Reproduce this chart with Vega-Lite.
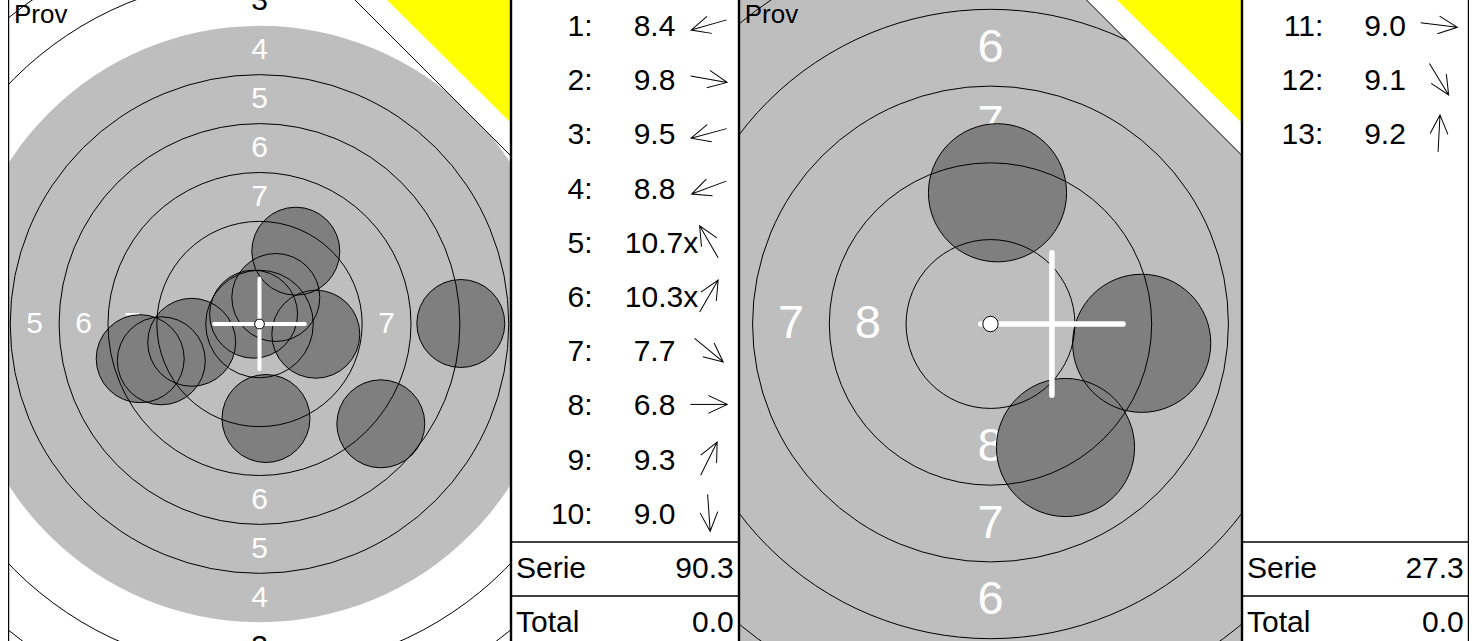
{
"$schema":"https://vega.github.io/schema/vega-lite/v6.json",
"background":"white",
"padding":{"left":8,"right":8,"top":0,"bottom":0},
"autosize":{"type":"pad"},
"spacing":0,
"bounds":"flush",
"resolve":{"scale":{"x":"independent","y":"independent","size":"independent","angle":"independent","color":"independent"}},
"config":{"view":{"stroke":null},"text":{"font":"Liberation Sans"}},
"datasets":{
"rings":[{"ring":1,"r":22.75},{"ring":2,"r":20.25},{"ring":3,"r":17.75},{"ring":4,"r":15.25},{"ring":5,"r":12.75},{"ring":6,"r":10.25},{"ring":7,"r":7.75},{"ring":8,"r":5.25},{"ring":9,"r":2.75},{"ring":10,"r":0.25}],
"labels":[
{"t":1,"z":3,"x":0,"y":16.5},{"t":1,"z":4,"x":0,"y":14},{"t":1,"z":5,"x":0,"y":11.5},{"t":1,"z":6,"x":0,"y":9},{"t":1,"z":7,"x":0,"y":6.5},
{"t":1,"z":7,"x":0,"y":-6.5},{"t":1,"z":6,"x":0,"y":-9},{"t":1,"z":5,"x":0,"y":-11.5},{"t":1,"z":4,"x":0,"y":-14},{"t":1,"z":3,"x":0,"y":-16.5},
{"t":1,"z":5,"x":-11.5,"y":0},{"t":1,"z":6,"x":-9,"y":0},{"t":1,"z":7,"x":-6.5,"y":0},{"t":1,"z":7,"x":6.5,"y":0},{"t":1,"z":6,"x":9,"y":0},{"t":1,"z":5,"x":11.5,"y":0},
{"t":2,"z":6,"x":0,"y":9},{"t":2,"z":7,"x":0,"y":6.5},{"t":2,"z":8,"x":0,"y":4},{"t":2,"z":8,"x":0,"y":-4},{"t":2,"z":7,"x":0,"y":-6.5},{"t":2,"z":6,"x":0,"y":-9},
{"t":2,"z":7,"x":-6.5,"y":0},{"t":2,"z":8,"x":-4,"y":0},{"t":2,"z":8,"x":4,"y":0},{"t":2,"z":7,"x":6.5,"y":0}
],
"shots":[
{"t":1,"n":1,"row":1,"lab":"1:","pts":8.4,"score":"8.4","x":-6.102,"y":-1.775,"dir":164},
{"t":1,"n":2,"row":2,"lab":"2:","pts":9.8,"score":"9.8","x":2.88,"y":-0.522,"dir":10},
{"t":1,"n":3,"row":3,"lab":"3:","pts":9.5,"score":"9.5","x":-3.468,"y":-0.936,"dir":165},
{"t":1,"n":4,"row":4,"lab":"4:","pts":8.8,"score":"8.8","x":-5.023,"y":-1.882,"dir":159.5},
{"t":1,"n":5,"row":5,"lab":"5:","pts":10.7,"score":"10.7x","x":-0.302,"y":0.501,"dir":240},
{"t":1,"n":6,"row":6,"lab":"6:","pts":10.3,"score":"10.3x","x":0.834,"y":1.356,"dir":300},
{"t":1,"n":7,"row":7,"lab":"7:","pts":7.7,"score":"7.7","x":6.205,"y":-5.105,"dir":39.4},
{"t":1,"n":8,"row":8,"lab":"8:","pts":6.8,"score":"6.8","x":10.297,"y":0.026,"dir":0},
{"t":1,"n":9,"row":9,"lab":"9:","pts":9.3,"score":"9.3","x":1.857,"y":3.724,"dir":296.5},
{"t":1,"n":10,"row":10,"lab":"10:","pts":9.0,"score":"9.0","x":0.332,"y":-4.834,"dir":86},
{"t":2,"n":11,"row":1,"lab":"11:","pts":9.0,"score":"9.0","x":4.925,"y":-0.629,"dir":7.3},
{"t":2,"n":12,"row":2,"lab":"12:","pts":9.1,"score":"9.1","x":2.443,"y":-4.023,"dir":58.7},
{"t":2,"n":13,"row":3,"lab":"13:","pts":9.2,"score":"9.2","x":0.228,"y":4.274,"dir":273}
],
"summary":[
{"t":1,"row":11,"name":"Serie","val":"90.3"},{"t":1,"row":12,"name":"Total","val":"0.0"},
{"t":2,"row":11,"name":"Serie","val":"27.3"},{"t":2,"row":12,"name":"Total","val":"0.0"}
],
"cross":[
{"t":1,"x1":-2.32,"x2":2.32,"y1":0,"y2":0},{"t":1,"x1":0,"x2":0,"y1":-2.32,"y2":2.32},
{"t":2,"x1":-0.32,"x2":4.32,"y1":0,"y2":0},{"t":2,"x1":2.0,"x2":2.0,"y1":-2.32,"y2":2.32}
],
"corner":[
{"t":1,"k":"white","x":4.458,"y":17,"y2":17},{"t":1,"k":"white","x":13.2,"y":8.258,"y2":17},
{"t":1,"k":"yellow","x":6.092,"y":17,"y2":17},{"t":1,"k":"yellow","x":13.2,"y":9.948,"y2":17},
{"t":2,"k":"white","x":2.68,"y":11,"y2":11},{"t":2,"k":"white","x":8.5,"y":5.18,"y2":11},
{"t":2,"k":"yellow","x":3.668,"y":11,"y2":11},{"t":2,"k":"yellow","x":8.5,"y":6.244,"y2":11}
],
"prov":[{"t":1,"s":"Prov","x":-12.558,"y":15.412},{"t":2,"s":"Prov","x":-8.007,"y":9.814}]
},
"hconcat":[
{
"width":503,"height":641,
"layer":[
{"data":{"name":"rings"},"transform":[{"filter":"datum.ring == 4"}],
 "mark":{"type":"point","shape":"circle","filled":true,"color":"#bebebe","strokeWidth":0,"opacity":1,"clip":true},
 "encoding":{"x":{"datum":0,"type":"quantitative","scale":{"domain":[-12.864,12.864],"nice":false,"zero":false},"axis":null},
 "y":{"datum":0,"type":"quantitative","scale":{"domain":[-16.215,16.573],"nice":false,"zero":false},"axis":null},
 "size":{"field":"r","type":"quantitative","scale":{"type":"pow","exponent":2,"domain":[0,25],"range":[0,955506]},"legend":null}}},
{"data":{"name":"labels"},"transform":[{"filter":"datum.t == 1"}],
 "mark":{"type":"text","font":"Liberation Sans","fontSize":30,"align":"center","baseline":"middle","clip":true},
 "encoding":{"x":{"field":"x","type":"quantitative","scale":{"domain":[-12.864,12.864],"nice":false,"zero":false},"axis":null},
 "y":{"field":"y","type":"quantitative","scale":{"domain":[-16.215,16.573],"nice":false,"zero":false},"axis":null},
 "text":{"field":"z","type":"nominal"},
 "color":{"condition":{"test":"datum.z <= 3","value":"black"},"value":"white"}}},
{"data":{"name":"shots"},"transform":[{"filter":"datum.t == 1"}],
 "mark":{"type":"point","shape":"circle","filled":true,"color":"#7f7f7f","strokeWidth":0,"opacity":1,"clip":true},
 "encoding":{"x":{"field":"x","type":"quantitative","scale":{"domain":[-12.864,12.864],"nice":false,"zero":false},"axis":null},
 "y":{"field":"y","type":"quantitative","scale":{"domain":[-16.215,16.573],"nice":false,"zero":false},"axis":null},
 "size":{"datum":2.25,"type":"quantitative","scale":{"type":"pow","exponent":2,"domain":[0,25],"range":[0,955506]},"legend":null}}},
{"data":{"name":"rings"},"transform":[{"filter":"datum.ring != 4 && datum.ring != 10"}],
 "mark":{"type":"point","shape":"circle","filled":false,"color":"black","strokeWidth":1,"opacity":1,"clip":true},
 "encoding":{"x":{"datum":0,"type":"quantitative","scale":{"domain":[-12.864,12.864],"nice":false,"zero":false},"axis":null},
 "y":{"datum":0,"type":"quantitative","scale":{"domain":[-16.215,16.573],"nice":false,"zero":false},"axis":null},
 "size":{"field":"r","type":"quantitative","scale":{"type":"pow","exponent":2,"domain":[0,25],"range":[0,955506]},"legend":null}}},
{"data":{"name":"shots"},"transform":[{"filter":"datum.t == 1"}],
 "mark":{"type":"point","shape":"circle","filled":false,"color":"black","strokeWidth":1,"opacity":1,"clip":true},
 "encoding":{"x":{"field":"x","type":"quantitative","scale":{"domain":[-12.864,12.864],"nice":false,"zero":false},"axis":null},
 "y":{"field":"y","type":"quantitative","scale":{"domain":[-16.215,16.573],"nice":false,"zero":false},"axis":null},
 "size":{"datum":2.25,"type":"quantitative","scale":{"type":"pow","exponent":2,"domain":[0,25],"range":[0,955506]},"legend":null}}},
{"data":{"name":"cross"},"transform":[{"filter":"datum.t == 1"}],
 "mark":{"type":"rule","color":"white","strokeWidth":4,"strokeCap":"round","clip":true},
 "encoding":{"x":{"field":"x1","type":"quantitative","scale":{"domain":[-12.864,12.864],"nice":false,"zero":false},"axis":null},"x2":{"field":"x2"},
 "y":{"field":"y1","type":"quantitative","scale":{"domain":[-16.215,16.573],"nice":false,"zero":false},"axis":null},"y2":{"field":"y2"}}},
{"data":{"name":"rings"},"transform":[{"filter":"datum.ring == 10"}],
 "mark":{"type":"point","shape":"circle","filled":true,"color":"white","stroke":"black","strokeWidth":1,"opacity":1,"clip":true},
 "encoding":{"x":{"datum":0,"type":"quantitative","scale":{"domain":[-12.864,12.864],"nice":false,"zero":false},"axis":null},
 "y":{"datum":0,"type":"quantitative","scale":{"domain":[-16.215,16.573],"nice":false,"zero":false},"axis":null},
 "size":{"field":"r","type":"quantitative","scale":{"type":"pow","exponent":2,"domain":[0,25],"range":[0,955506]},"legend":null}}},
{"data":{"name":"corner"},"transform":[{"filter":"datum.t == 1 && datum.k == 'white'"}],
 "mark":{"type":"area","color":"white","opacity":1,"clip":true},
 "encoding":{"x":{"field":"x","type":"quantitative","scale":{"domain":[-12.864,12.864],"nice":false,"zero":false},"axis":null},
 "y":{"field":"y","type":"quantitative","scale":{"domain":[-16.215,16.573],"nice":false,"zero":false},"axis":null},"y2":{"field":"y2"}}},
{"data":{"name":"corner"},"transform":[{"filter":"datum.t == 1 && datum.k == 'yellow'"}],
 "mark":{"type":"area","color":"#ffff00","opacity":1,"clip":true},
 "encoding":{"x":{"field":"x","type":"quantitative","scale":{"domain":[-12.864,12.864],"nice":false,"zero":false},"axis":null},
 "y":{"field":"y","type":"quantitative","scale":{"domain":[-16.215,16.573],"nice":false,"zero":false},"axis":null},"y2":{"field":"y2"}}},
{"data":{"name":"corner"},"transform":[{"filter":"datum.t == 1 && datum.k == 'white'"}],
 "mark":{"type":"line","color":"black","strokeWidth":1,"clip":true},
 "encoding":{"x":{"field":"x","type":"quantitative","scale":{"domain":[-12.864,12.864],"nice":false,"zero":false},"axis":null},
 "y":{"field":"y","type":"quantitative","scale":{"domain":[-16.215,16.573],"nice":false,"zero":false},"axis":null}}},
{"data":{"name":"prov"},"transform":[{"filter":"datum.t == 1"}],
 "mark":{"type":"text","font":"Liberation Sans","fontSize":26,"align":"left","baseline":"alphabetic","color":"black","clip":true},
 "encoding":{"x":{"field":"x","type":"quantitative","scale":{"domain":[-12.864,12.864],"nice":false,"zero":false},"axis":null},
 "y":{"field":"y","type":"quantitative","scale":{"domain":[-16.215,16.573],"nice":false,"zero":false},"axis":null},
 "text":{"field":"s","type":"nominal"}}},
{"data":{"values":[{}]},
 "mark":{"type":"rule","color":"black","strokeWidth":2.4,"clip":true},
 "encoding":{"x":{"datum":-12.864,"type":"quantitative","scale":{"domain":[-12.864,12.864],"nice":false,"zero":false},"axis":null}}},
{"data":{"values":[{}]},
 "mark":{"type":"rule","color":"black","strokeWidth":2.4,"clip":true},
 "encoding":{"x":{"datum":12.864,"type":"quantitative","scale":{"domain":[-12.864,12.864],"nice":false,"zero":false},"axis":null}}}
]
},
{
"width":228,"height":641,
"layer":[
{"data":{"name":"shots"},"transform":[{"filter":"datum.t == 1"}],
 "mark":{"type":"text","font":"Liberation Sans","fontSize":30,"align":"right","baseline":"middle","color":"black"},
 "encoding":{"x":{"datum":35.8,"type":"quantitative","scale":{"domain":[0,100],"nice":false,"zero":false},"axis":null},
 "y":{"field":"row","type":"quantitative","scale":{"domain":[0.502,12.328],"reverse":true,"nice":false,"zero":false},"axis":null},
 "text":{"field":"lab","type":"nominal"}}},
{"data":{"name":"shots"},"transform":[{"filter":"datum.t == 1 && datum.pts < 10"}],
 "mark":{"type":"text","font":"Liberation Sans","fontSize":30,"align":"left","baseline":"middle","color":"black"},
 "encoding":{"x":{"datum":53.8,"type":"quantitative","scale":{"domain":[0,100],"nice":false,"zero":false},"axis":null},
 "y":{"field":"row","type":"quantitative","scale":{"domain":[0.502,12.328],"reverse":true,"nice":false,"zero":false},"axis":null},
 "text":{"field":"score","type":"nominal"}}},
{"data":{"name":"shots"},"transform":[{"filter":"datum.t == 1 && datum.pts >= 10"}],
 "mark":{"type":"text","font":"Liberation Sans","fontSize":30,"align":"left","baseline":"middle","color":"black"},
 "encoding":{"x":{"datum":49.9,"type":"quantitative","scale":{"domain":[0,100],"nice":false,"zero":false},"axis":null},
 "y":{"field":"row","type":"quantitative","scale":{"domain":[0.502,12.328],"reverse":true,"nice":false,"zero":false},"axis":null},
 "text":{"field":"score","type":"nominal"}}},
{"data":{"name":"shots"},"transform":[{"filter":"datum.t == 1"}],
 "mark":{"type":"point","shape":"M-1,0L1,0M-0.03,-0.48L1,0L-0.03,0.48","filled":false,"color":"black","strokeWidth":1,"opacity":1,"size":1369,"yOffset":-2},
 "encoding":{"x":{"datum":86.8,"type":"quantitative","scale":{"domain":[0,100],"nice":false,"zero":false},"axis":null},
 "y":{"field":"row","type":"quantitative","scale":{"domain":[0.502,12.328],"reverse":true,"nice":false,"zero":false},"axis":null},
 "angle":{"field":"dir","type":"quantitative","scale":{"domain":[0,360],"range":[0,360]},"legend":null}}},
{"data":{"name":"summary"},"transform":[{"filter":"datum.t == 1"}],
 "mark":{"type":"text","font":"Liberation Sans","fontSize":30,"align":"left","baseline":"middle","color":"black"},
 "encoding":{"x":{"datum":2.2,"type":"quantitative","scale":{"domain":[0,100],"nice":false,"zero":false},"axis":null},
 "y":{"field":"row","type":"quantitative","scale":{"domain":[0.502,12.328],"reverse":true,"nice":false,"zero":false},"axis":null},
 "text":{"field":"name","type":"nominal"}}},
{"data":{"name":"summary"},"transform":[{"filter":"datum.t == 1"}],
 "mark":{"type":"text","font":"Liberation Sans","fontSize":30,"align":"right","baseline":"middle","color":"black"},
 "encoding":{"x":{"datum":97.7,"type":"quantitative","scale":{"domain":[0,100],"nice":false,"zero":false},"axis":null},
 "y":{"field":"row","type":"quantitative","scale":{"domain":[0.502,12.328],"reverse":true,"nice":false,"zero":false},"axis":null},
 "text":{"field":"val","type":"nominal"}}},
{"data":{"values":[{}]},
 "mark":{"type":"rule","color":"black","strokeWidth":1.5},
 "encoding":{"y":{"datum":10.5,"type":"quantitative","scale":{"domain":[0.502,12.328],"reverse":true,"nice":false,"zero":false},"axis":null}}},
{"data":{"values":[{}]},
 "mark":{"type":"rule","color":"black","strokeWidth":1.5},
 "encoding":{"y":{"datum":11.5,"type":"quantitative","scale":{"domain":[0.502,12.328],"reverse":true,"nice":false,"zero":false},"axis":null}}},
{"data":{"values":[{}]},
 "mark":{"type":"rule","color":"black","strokeWidth":2.4,"clip":true},
 "encoding":{"x":{"datum":0,"type":"quantitative","scale":{"domain":[0,100],"nice":false,"zero":false},"axis":null}}},
{"data":{"values":[{}]},
 "mark":{"type":"rule","color":"black","strokeWidth":2.4,"clip":true},
 "encoding":{"x":{"datum":100,"type":"quantitative","scale":{"domain":[0,100],"nice":false,"zero":false},"axis":null}}}
]
},
{
"width":503,"height":641,
"layer":[
{"data":{"name":"rings"},"transform":[{"filter":"datum.ring == 4"}],
 "mark":{"type":"point","shape":"circle","filled":true,"color":"#bebebe","strokeWidth":0,"opacity":1,"clip":true},
 "encoding":{"x":{"datum":0,"type":"quantitative","scale":{"domain":[-8.192,8.192],"nice":false,"zero":false},"axis":null},
 "y":{"datum":0,"type":"quantitative","scale":{"domain":[-10.326,10.554],"nice":false,"zero":false},"axis":null},
 "size":{"field":"r","type":"quantitative","scale":{"type":"pow","exponent":2,"domain":[0,25],"range":[0,2356225]},"legend":null}}},
{"data":{"name":"labels"},"transform":[{"filter":"datum.t == 2"}],
 "mark":{"type":"text","font":"Liberation Sans","fontSize":47,"align":"center","baseline":"middle","clip":true},
 "encoding":{"x":{"field":"x","type":"quantitative","scale":{"domain":[-8.192,8.192],"nice":false,"zero":false},"axis":null},
 "y":{"field":"y","type":"quantitative","scale":{"domain":[-10.326,10.554],"nice":false,"zero":false},"axis":null},
 "text":{"field":"z","type":"nominal"},
 "color":{"condition":{"test":"datum.z <= 3","value":"black"},"value":"white"}}},
{"data":{"name":"shots"},"transform":[{"filter":"datum.t == 2"}],
 "mark":{"type":"point","shape":"circle","filled":true,"color":"#7f7f7f","strokeWidth":0,"opacity":1,"clip":true},
 "encoding":{"x":{"field":"x","type":"quantitative","scale":{"domain":[-8.192,8.192],"nice":false,"zero":false},"axis":null},
 "y":{"field":"y","type":"quantitative","scale":{"domain":[-10.326,10.554],"nice":false,"zero":false},"axis":null},
 "size":{"datum":2.25,"type":"quantitative","scale":{"type":"pow","exponent":2,"domain":[0,25],"range":[0,2356225]},"legend":null}}},
{"data":{"name":"rings"},"transform":[{"filter":"datum.ring != 4 && datum.ring != 10"}],
 "mark":{"type":"point","shape":"circle","filled":false,"color":"black","strokeWidth":1,"opacity":1,"clip":true},
 "encoding":{"x":{"datum":0,"type":"quantitative","scale":{"domain":[-8.192,8.192],"nice":false,"zero":false},"axis":null},
 "y":{"datum":0,"type":"quantitative","scale":{"domain":[-10.326,10.554],"nice":false,"zero":false},"axis":null},
 "size":{"field":"r","type":"quantitative","scale":{"type":"pow","exponent":2,"domain":[0,25],"range":[0,2356225]},"legend":null}}},
{"data":{"name":"shots"},"transform":[{"filter":"datum.t == 2"}],
 "mark":{"type":"point","shape":"circle","filled":false,"color":"black","strokeWidth":1,"opacity":1,"clip":true},
 "encoding":{"x":{"field":"x","type":"quantitative","scale":{"domain":[-8.192,8.192],"nice":false,"zero":false},"axis":null},
 "y":{"field":"y","type":"quantitative","scale":{"domain":[-10.326,10.554],"nice":false,"zero":false},"axis":null},
 "size":{"datum":2.25,"type":"quantitative","scale":{"type":"pow","exponent":2,"domain":[0,25],"range":[0,2356225]},"legend":null}}},
{"data":{"name":"cross"},"transform":[{"filter":"datum.t == 2"}],
 "mark":{"type":"rule","color":"white","strokeWidth":5.5,"strokeCap":"round","clip":true},
 "encoding":{"x":{"field":"x1","type":"quantitative","scale":{"domain":[-8.192,8.192],"nice":false,"zero":false},"axis":null},"x2":{"field":"x2"},
 "y":{"field":"y1","type":"quantitative","scale":{"domain":[-10.326,10.554],"nice":false,"zero":false},"axis":null},"y2":{"field":"y2"}}},
{"data":{"name":"rings"},"transform":[{"filter":"datum.ring == 10"}],
 "mark":{"type":"point","shape":"circle","filled":true,"color":"white","stroke":"black","strokeWidth":1,"opacity":1,"clip":true},
 "encoding":{"x":{"datum":0,"type":"quantitative","scale":{"domain":[-8.192,8.192],"nice":false,"zero":false},"axis":null},
 "y":{"datum":0,"type":"quantitative","scale":{"domain":[-10.326,10.554],"nice":false,"zero":false},"axis":null},
 "size":{"field":"r","type":"quantitative","scale":{"type":"pow","exponent":2,"domain":[0,25],"range":[0,2356225]},"legend":null}}},
{"data":{"name":"corner"},"transform":[{"filter":"datum.t == 2 && datum.k == 'white'"}],
 "mark":{"type":"area","color":"white","opacity":1,"clip":true},
 "encoding":{"x":{"field":"x","type":"quantitative","scale":{"domain":[-8.192,8.192],"nice":false,"zero":false},"axis":null},
 "y":{"field":"y","type":"quantitative","scale":{"domain":[-10.326,10.554],"nice":false,"zero":false},"axis":null},"y2":{"field":"y2"}}},
{"data":{"name":"corner"},"transform":[{"filter":"datum.t == 2 && datum.k == 'yellow'"}],
 "mark":{"type":"area","color":"#ffff00","opacity":1,"clip":true},
 "encoding":{"x":{"field":"x","type":"quantitative","scale":{"domain":[-8.192,8.192],"nice":false,"zero":false},"axis":null},
 "y":{"field":"y","type":"quantitative","scale":{"domain":[-10.326,10.554],"nice":false,"zero":false},"axis":null},"y2":{"field":"y2"}}},
{"data":{"name":"corner"},"transform":[{"filter":"datum.t == 2 && datum.k == 'white'"}],
 "mark":{"type":"line","color":"black","strokeWidth":1,"clip":true},
 "encoding":{"x":{"field":"x","type":"quantitative","scale":{"domain":[-8.192,8.192],"nice":false,"zero":false},"axis":null},
 "y":{"field":"y","type":"quantitative","scale":{"domain":[-10.326,10.554],"nice":false,"zero":false},"axis":null}}},
{"data":{"name":"prov"},"transform":[{"filter":"datum.t == 2"}],
 "mark":{"type":"text","font":"Liberation Sans","fontSize":26,"align":"left","baseline":"alphabetic","color":"black","clip":true},
 "encoding":{"x":{"field":"x","type":"quantitative","scale":{"domain":[-8.192,8.192],"nice":false,"zero":false},"axis":null},
 "y":{"field":"y","type":"quantitative","scale":{"domain":[-10.326,10.554],"nice":false,"zero":false},"axis":null},
 "text":{"field":"s","type":"nominal"}}},
{"data":{"values":[{}]},
 "mark":{"type":"rule","color":"black","strokeWidth":2.4,"clip":true},
 "encoding":{"x":{"datum":-8.192,"type":"quantitative","scale":{"domain":[-8.192,8.192],"nice":false,"zero":false},"axis":null}}},
{"data":{"values":[{}]},
 "mark":{"type":"rule","color":"black","strokeWidth":2.4,"clip":true},
 "encoding":{"x":{"datum":8.192,"type":"quantitative","scale":{"domain":[-8.192,8.192],"nice":false,"zero":false},"axis":null}}}
]
},
{
"width":227,"height":641,
"layer":[
{"data":{"name":"shots"},"transform":[{"filter":"datum.t == 2"}],
 "mark":{"type":"text","font":"Liberation Sans","fontSize":30,"align":"right","baseline":"middle","color":"black"},
 "encoding":{"x":{"datum":35.8,"type":"quantitative","scale":{"domain":[0,100],"nice":false,"zero":false},"axis":null},
 "y":{"field":"row","type":"quantitative","scale":{"domain":[0.502,12.328],"reverse":true,"nice":false,"zero":false},"axis":null},
 "text":{"field":"lab","type":"nominal"}}},
{"data":{"name":"shots"},"transform":[{"filter":"datum.t == 2 && datum.pts < 10"}],
 "mark":{"type":"text","font":"Liberation Sans","fontSize":30,"align":"left","baseline":"middle","color":"black"},
 "encoding":{"x":{"datum":53.8,"type":"quantitative","scale":{"domain":[0,100],"nice":false,"zero":false},"axis":null},
 "y":{"field":"row","type":"quantitative","scale":{"domain":[0.502,12.328],"reverse":true,"nice":false,"zero":false},"axis":null},
 "text":{"field":"score","type":"nominal"}}},
{"data":{"name":"shots"},"transform":[{"filter":"datum.t == 2 && datum.pts >= 10"}],
 "mark":{"type":"text","font":"Liberation Sans","fontSize":30,"align":"left","baseline":"middle","color":"black"},
 "encoding":{"x":{"datum":49.9,"type":"quantitative","scale":{"domain":[0,100],"nice":false,"zero":false},"axis":null},
 "y":{"field":"row","type":"quantitative","scale":{"domain":[0.502,12.328],"reverse":true,"nice":false,"zero":false},"axis":null},
 "text":{"field":"score","type":"nominal"}}},
{"data":{"name":"shots"},"transform":[{"filter":"datum.t == 2"}],
 "mark":{"type":"point","shape":"M-1,0L1,0M-0.03,-0.48L1,0L-0.03,0.48","filled":false,"color":"black","strokeWidth":1,"opacity":1,"size":1369,"yOffset":-2},
 "encoding":{"x":{"datum":86.8,"type":"quantitative","scale":{"domain":[0,100],"nice":false,"zero":false},"axis":null},
 "y":{"field":"row","type":"quantitative","scale":{"domain":[0.502,12.328],"reverse":true,"nice":false,"zero":false},"axis":null},
 "angle":{"field":"dir","type":"quantitative","scale":{"domain":[0,360],"range":[0,360]},"legend":null}}},
{"data":{"name":"summary"},"transform":[{"filter":"datum.t == 2"}],
 "mark":{"type":"text","font":"Liberation Sans","fontSize":30,"align":"left","baseline":"middle","color":"black"},
 "encoding":{"x":{"datum":2.2,"type":"quantitative","scale":{"domain":[0,100],"nice":false,"zero":false},"axis":null},
 "y":{"field":"row","type":"quantitative","scale":{"domain":[0.502,12.328],"reverse":true,"nice":false,"zero":false},"axis":null},
 "text":{"field":"name","type":"nominal"}}},
{"data":{"name":"summary"},"transform":[{"filter":"datum.t == 2"}],
 "mark":{"type":"text","font":"Liberation Sans","fontSize":30,"align":"right","baseline":"middle","color":"black"},
 "encoding":{"x":{"datum":97.7,"type":"quantitative","scale":{"domain":[0,100],"nice":false,"zero":false},"axis":null},
 "y":{"field":"row","type":"quantitative","scale":{"domain":[0.502,12.328],"reverse":true,"nice":false,"zero":false},"axis":null},
 "text":{"field":"val","type":"nominal"}}},
{"data":{"values":[{}]},
 "mark":{"type":"rule","color":"black","strokeWidth":1.5},
 "encoding":{"y":{"datum":10.5,"type":"quantitative","scale":{"domain":[0.502,12.328],"reverse":true,"nice":false,"zero":false},"axis":null}}},
{"data":{"values":[{}]},
 "mark":{"type":"rule","color":"black","strokeWidth":1.5},
 "encoding":{"y":{"datum":11.5,"type":"quantitative","scale":{"domain":[0.502,12.328],"reverse":true,"nice":false,"zero":false},"axis":null}}},
{"data":{"values":[{}]},
 "mark":{"type":"rule","color":"black","strokeWidth":2.4,"clip":true},
 "encoding":{"x":{"datum":0,"type":"quantitative","scale":{"domain":[0,100],"nice":false,"zero":false},"axis":null}}},
{"data":{"values":[{}]},
 "mark":{"type":"rule","color":"black","strokeWidth":2.4,"clip":true},
 "encoding":{"x":{"datum":100,"type":"quantitative","scale":{"domain":[0,100],"nice":false,"zero":false},"axis":null}}}
]
}
]
}
